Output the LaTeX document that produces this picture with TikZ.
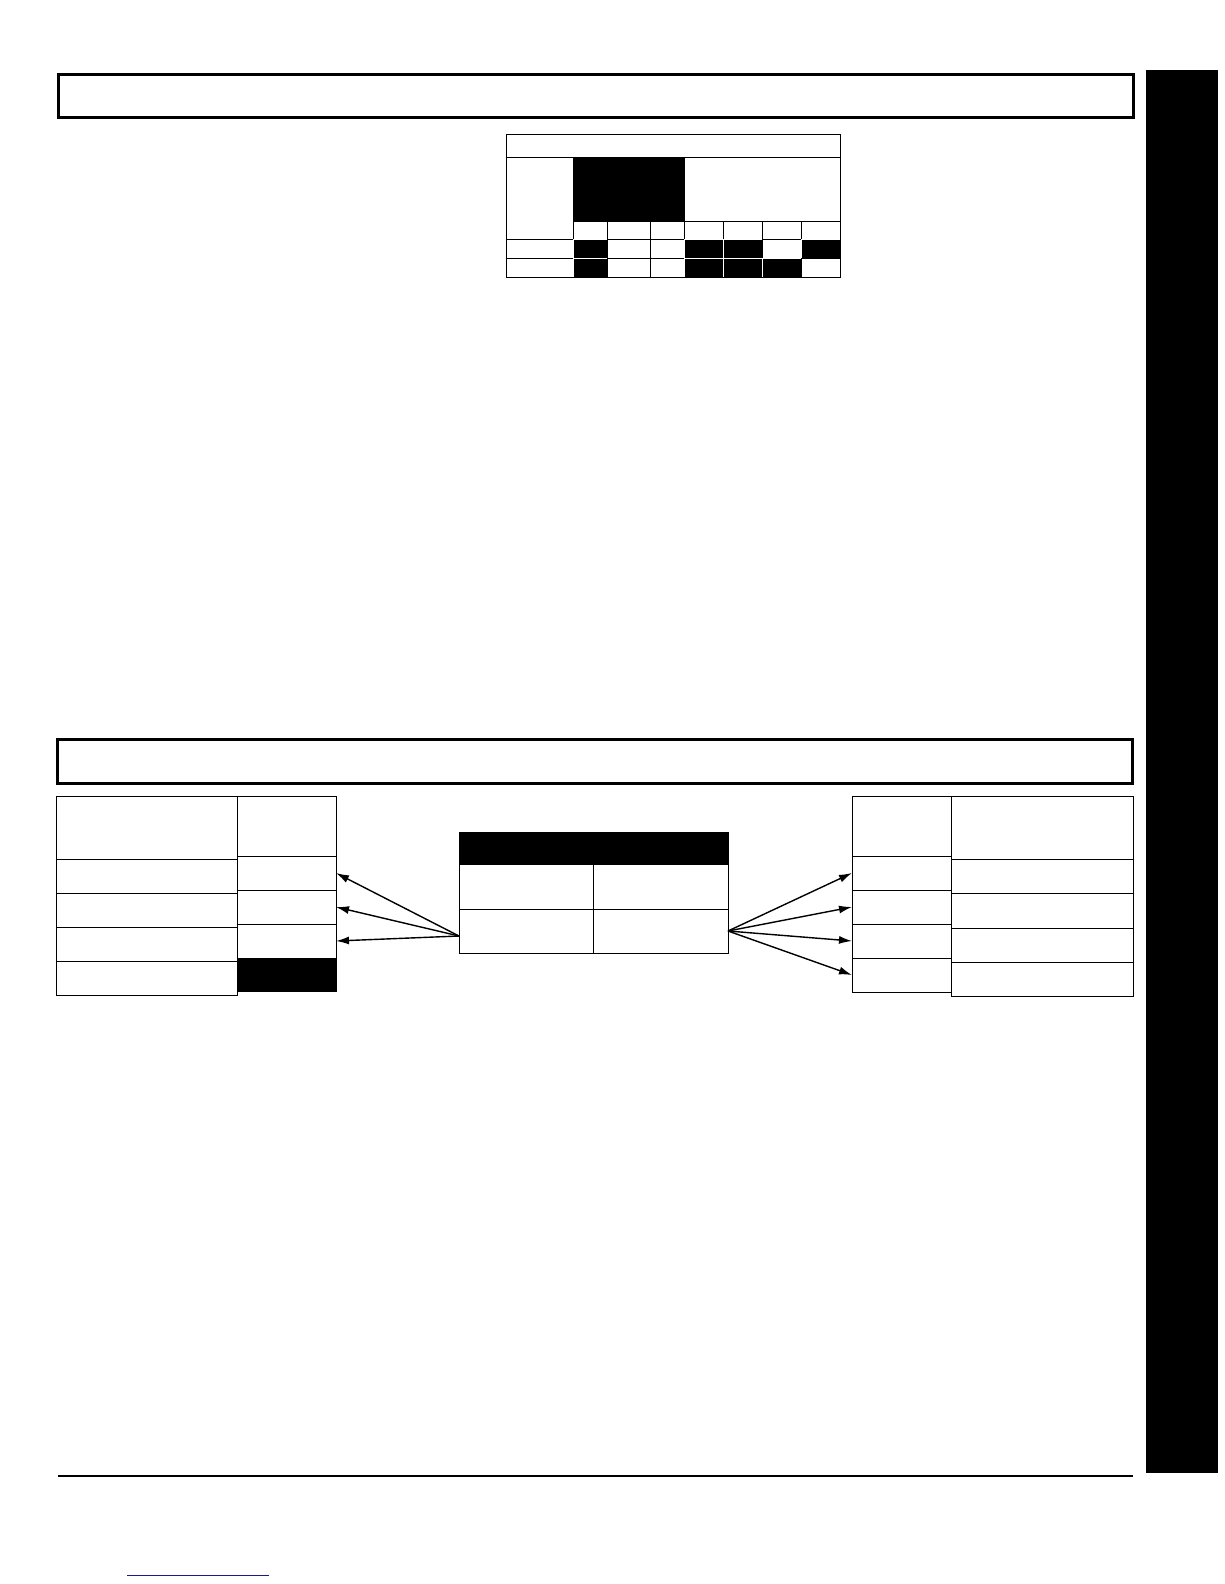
\documentclass[tikz,border=0pt]{standalone}
\usetikzlibrary{arrows.meta}
\definecolor{linkblue}{RGB}{24,24,150}
\begin{document}
\begin{tikzpicture}[x=1pt,y=-1pt,
		cell/.style={draw,line width=1pt,inner sep=0pt,outer sep=0pt,anchor=north west},
		blk/.style={cell,fill=black},
		dot/.style={cell,fill=black,draw=white},
		bar/.style={draw,line width=3.3pt,inner sep=0pt,outer sep=0pt,anchor=north west},
		fan/.style={-{Latex[length=13pt,width=8pt]},line width=1.4pt}]
		\useasboundingbox (0,0) rectangle (1224,1584);
		
		\node[bar,minimum width=1075,minimum height=43] (title1) at (58.5,74.3) {};
		\node[fill=black,inner sep=0pt,anchor=north west,minimum width=72,minimum height=1403] (tab) at (1146,70) {};
		
		\node[cell,minimum width=334,minimum height=22] (thead) at (506,135) {};
		\node[cell,minimum width=67,minimum height=82] (tleft) at (506,157) {};
		\node[blk,minimum width=111,minimum height=64] (tblk) at (573,157) {};
		\node[cell,minimum width=156,minimum height=64] (tright) at (684,157) {};
		\node[cell,minimum width=67,minimum height=19] (tra) at (506,239) {};
		\node[cell,minimum width=67,minimum height=19] (trb) at (506,258) {};
		\foreach \x/\w/\fa/\fb [count=\i] in {573/34/dot/dot,607/43/cell/cell,650/34/cell/cell,684/39/dot/dot,723/39/dot/dot,762/39/cell/dot,801/39/dot/cell}{
			\node[cell,minimum width=\w,minimum height=18] (s\i) at (\x,221) {};
			\node[\fa,minimum width=\w,minimum height=19] (a\i) at (\x,239) {};
			\node[\fb,minimum width=\w,minimum height=19] (b\i) at (\x,258) {};
		}
		\draw[line width=1pt] (thead.north west) rectangle (b7.south east);
		
		\node[bar,minimum width=1074.6,minimum height=43.6] (title2) at (57.7,739.7) {};
		
		\node[cell,minimum width=181,minimum height=63] (LA0) at (56,796) {};
		\foreach \y [count=\i] in {859,893,927,961}
			\node[cell,minimum width=181,minimum height=34] (LA\i) at (56,\y) {};
		\node[cell,minimum width=99,minimum height=60] (LB0) at (237,796) {};
		\foreach \y [count=\i] in {856,890,924}
			\node[cell,minimum width=99,minimum height=34] (LB\i) at (237,\y) {};
		\node[blk,minimum width=99,minimum height=33] (LB4) at (237,958) {};
		
		\node[blk,minimum width=269,minimum height=32] (Mhead) at (459,832) {};
		\node[cell,minimum width=134,minimum height=45] (M11) at (459,864) {};
		\node[cell,minimum width=135,minimum height=45] (M12) at (593,864) {};
		\node[cell,minimum width=134,minimum height=44] (M21) at (459,909) {};
		\node[cell,minimum width=135,minimum height=44] (M22) at (593,909) {};
		
		\node[cell,minimum width=99,minimum height=60] (RA0) at (852,796) {};
		\foreach \y [count=\i] in {856,890,924,958}
			\node[cell,minimum width=99,minimum height=34] (RA\i) at (852,\y) {};
		\node[cell,minimum width=182,minimum height=63] (RB0) at (951,796) {};
		\foreach \y/\h [count=\i] in {859/34,893/35,928/34,962/34}
			\node[cell,minimum width=182,minimum height=\h] (RB\i) at (951,\y) {};
		
		\coordinate (fanL) at ([yshift=-5pt]M21.west);
		\foreach \i in {1,2,3} \draw[fan] (fanL) -- (LB\i.east);
		\foreach \i in {1,2,3,4} \draw[fan] (M22.east) -- (RA\i.west);
		
		\coordinate (footL) at (57.7,1476); \coordinate (footR) at (1132.7,1476);
		\draw[line width=2.5pt] (footL) -- (footR);
		\coordinate (linkL) at (127,1575); \coordinate (linkR) at (269,1575);
		\draw[linkblue,line width=1pt] (linkL) -- (linkR);
\end{tikzpicture}
\end{document}
